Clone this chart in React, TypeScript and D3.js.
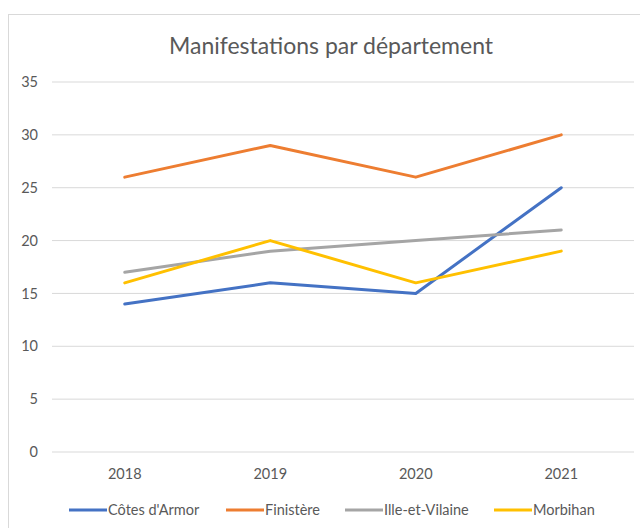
import React, { useEffect, useRef } from 'react';
import * as d3 from 'd3';

const years = ['2018', '2019', '2020', '2021'];
const cotesArmor = [14, 16, 15, 25];
const finistere = [26, 29, 26, 30];
const illeEtVilaine = [17, 19, 20, 21];
const morbihan = [16, 20, 16, 19];
const yTicks = [0, 5, 10, 15, 20, 25, 30, 35];

const series = [
  { name: "Côtes d'Armor", values: cotesArmor, color: '#4472C4' },
  { name: 'Finistère', values: finistere, color: '#ED7D31' },
  { name: 'Ille-et-Vilaine', values: illeEtVilaine, color: '#A5A5A5' },
  { name: 'Morbihan', values: morbihan, color: '#FFC000' },
];

const width = 640;
const height = 528;
const font = 'Lato, "Open Sans", sans-serif';

const App = () => {
  const svgRef = useRef<SVGSVGElement>(null);

  useEffect(() => {
    const svg = d3.select(svgRef.current);
    svg.selectAll('*').remove();

    // chart frame (right and bottom edges fall outside the picture)
    svg.append('rect')
      .attr('x', 8.5)
      .attr('y', 14.5)
      .attr('width', 700)
      .attr('height', 600)
      .attr('fill', 'white')
      .attr('stroke', '#d9d9d9');

    const margin = { top: 82, left: 52, right: 6, bottom: 76 };
    const innerWidth = width - margin.left - margin.right;
    const innerHeight = height - margin.top - margin.bottom;

    const x = d3.scalePoint<string>()
      .domain(years)
      .range([0, innerWidth])
      .padding(0.5);

    const y = d3.scaleLinear()
      .domain([0, 35])
      .range([innerHeight, 0]);

    const g = svg.append('g')
      .attr('transform', `translate(${margin.left},${margin.top})`);

    // gridlines
    g.selectAll('.grid')
      .data(yTicks)
      .enter().append('line')
      .attr('x1', 0)
      .attr('x2', innerWidth)
      .attr('y1', d => y(d))
      .attr('y2', d => y(d))
      .attr('stroke', '#d9d9d9')
      .attr('stroke-width', 1);

    // y labels
    g.selectAll('.ylab')
      .data(yTicks)
      .enter().append('text')
      .attr('x', -14)
      .attr('y', d => y(d))
      .attr('dy', '0.35em')
      .attr('text-anchor', 'end')
      .style('font-family', font)
      .style('font-size', '14.5px')
      .style('fill', '#595959')
      .text(d => d);

    // x labels
    g.selectAll('.xlab')
      .data(years)
      .enter().append('text')
      .attr('x', d => x(d)!)
      .attr('y', innerHeight + 27)
      .attr('text-anchor', 'middle')
      .style('font-family', font)
      .style('font-size', '14.5px')
      .style('fill', '#595959')
      .text(d => d);

    const line = d3.line<number>()
      .x((_, i) => x(years[i])!)
      .y(d => y(d));

    g.selectAll('.series')
      .data(series)
      .enter().append('path')
      .attr('d', d => line(d.values))
      .attr('fill', 'none')
      .attr('stroke', d => d.color)
      .attr('stroke-width', 3)
      .attr('stroke-linejoin', 'round')
      .attr('stroke-linecap', 'round');

    // title
    svg.append('text')
      .attr('x', 331)
      .attr('y', 54)
      .attr('text-anchor', 'middle')
      .style('font-family', font)
      .style('font-size', '23px')
      .style('fill', '#595959')
      .text('Manifestations par département');

    // legend
    const legendX = [69, 226, 345, 494];
    const legend = svg.selectAll('.legend')
      .data(series)
      .enter().append('g')
      .attr('transform', (_, i) => `translate(${legendX[i]},510)`);

    legend.append('line')
      .attr('x1', 0)
      .attr('x2', 38)
      .attr('stroke', d => d.color)
      .attr('stroke-width', 3);

    legend.append('text')
      .attr('x', 39)
      .attr('dy', '0.35em')
      .style('font-family', font)
      .style('font-size', '14.5px')
      .style('fill', '#595959')
      .text(d => d.name);
  }, []);

  return (
    <svg
      ref={svgRef}
      width={width}
      height={height}
      style={{ position: 'absolute', left: 0, top: 0, display: 'block' }}
    />
  );
};

export default App;
